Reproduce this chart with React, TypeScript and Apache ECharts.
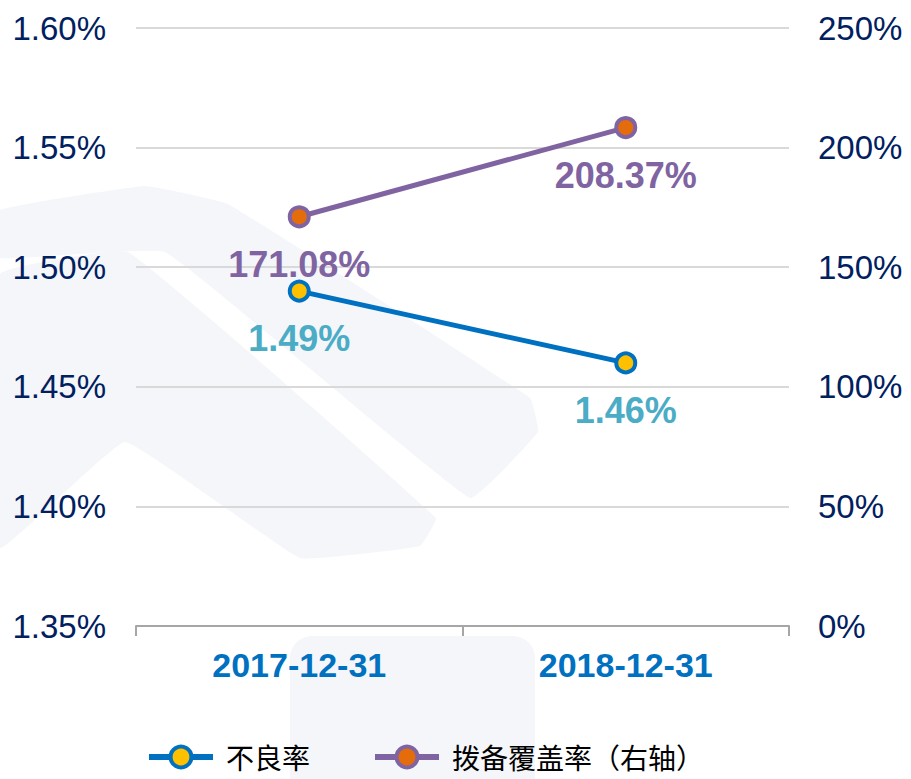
import React, { useEffect, useRef } from "react";
import * as echarts from "echarts";

const categories = ["2017-12-31", "2018-12-31"];
const nplRatio = [1.49, 1.46];
const coverageRatio = [171.08, 208.37];
const seriesNames = ["不良率", "拨备覆盖率（右轴）"];

export default function App() {
  const ref = useRef<HTMLDivElement>(null);
  useEffect(() => {
    if (!ref.current) return;
    const chart = echarts.init(ref.current, undefined, { renderer: "svg" });
    const wm = "#F4F6F9";
    chart.setOption({
      animation: false,
      backgroundColor: "#ffffff",
      graphic: [
        {
          type: "polygon",
          z: -10,
          silent: true,
          shape: {
            smooth: 0.08,
            points: [
              [0, 210], [145, 186], [228, 204], [530, 398], [538, 432], [470, 498], [165, 252], [0, 258],
            ],
          },
          style: { fill: wm },
        },
        {
          type: "polygon",
          z: -10,
          silent: true,
          shape: {
            smooth: 0.08,
            points: [
              [0, 274], [128, 252], [436, 518], [420, 546], [300, 558], [125, 442], [0, 548],
            ],
          },
          style: { fill: wm },
        },
        {
          type: "rect",
          z: -10,
          silent: true,
          shape: { x: 290, y: 636, width: 245, height: 180, r: 22 },
          style: { fill: wm },
        },
      ],
      grid: { left: 136, right: 122, top: 28, bottom: 153, containLabel: false },
      legend: {
        data: seriesNames,
        left: 141,
        top: 737,
        itemWidth: 64,
        itemHeight: 26,
        itemGap: 62,
        lineStyle: { width: 6 },
        itemStyle: { borderWidth: 4 },
        textStyle: {
          fontFamily: "Noto Sans CJK SC",
          fontSize: 28,
          lineHeight: 30,
          color: "#000000",
          padding: [0, 0, 0, 8],
        },
      },
      xAxis: {
        type: "category",
        data: categories,
        boundaryGap: true,
        axisLine: { lineStyle: { color: "#A6A6A6", width: 2 } },
        axisTick: { show: true, length: 10, lineStyle: { color: "#A6A6A6", width: 2 } },
        axisLabel: {
          margin: 22,
          fontFamily: "Liberation Sans, Arial",
          fontSize: 34,
          fontWeight: "bold",
          color: "#0070C0",
        },
      },
      yAxis: [
        {
          type: "value",
          min: 1.35,
          max: 1.6,
          interval: 0.05,
          axisLine: { show: false },
          axisTick: { show: false },
          splitLine: { lineStyle: { color: "#D9D9D9", width: 2 } },
          axisLabel: {
            margin: 30,
            fontFamily: "Liberation Sans, Arial",
            fontSize: 33,
            color: "#002060",
            formatter: (v: number) => v.toFixed(2) + "%",
          },
        },
        {
          type: "value",
          min: 0,
          max: 250,
          interval: 50,
          axisLine: { show: false },
          axisTick: { show: false },
          splitLine: { show: false },
          axisLabel: {
            margin: 29,
            fontFamily: "Liberation Sans, Arial",
            fontSize: 33,
            color: "#002060",
            formatter: "{value}%",
          },
        },
      ],
      series: [
        {
          name: seriesNames[0],
          type: "line",
          yAxisIndex: 0,
          data: nplRatio,
          symbol: "circle",
          symbolSize: 19,
          lineStyle: { color: "#0070C0", width: 5 },
          itemStyle: { color: "#FFC000", borderColor: "#0070C0", borderWidth: 4 },
          label: {
            show: true,
            position: "bottom",
            distance: 18,
            fontFamily: "Liberation Sans, Arial",
            fontSize: 36,
            fontWeight: "bold",
            color: "#4BACC6",
            formatter: (p: any) => p.value.toFixed(2) + "%",
          },
        },
        {
          name: seriesNames[1],
          type: "line",
          yAxisIndex: 1,
          data: coverageRatio,
          symbol: "circle",
          symbolSize: 19,
          lineStyle: { color: "#8064A2", width: 5 },
          itemStyle: { color: "#E46C0A", borderColor: "#8064A2", borderWidth: 4 },
          label: {
            show: true,
            position: "bottom",
            distance: 18,
            fontFamily: "Liberation Sans, Arial",
            fontSize: 36,
            fontWeight: "bold",
            color: "#8064A2",
            formatter: (p: any) => p.value.toFixed(2) + "%",
          },
        },
      ],
    });
    return () => chart.dispose();
  }, []);
  return (
    <div
      ref={ref}
      style={{ position: "fixed", left: 0, top: 0, width: 911, height: 779 }}
    />
  );
}
